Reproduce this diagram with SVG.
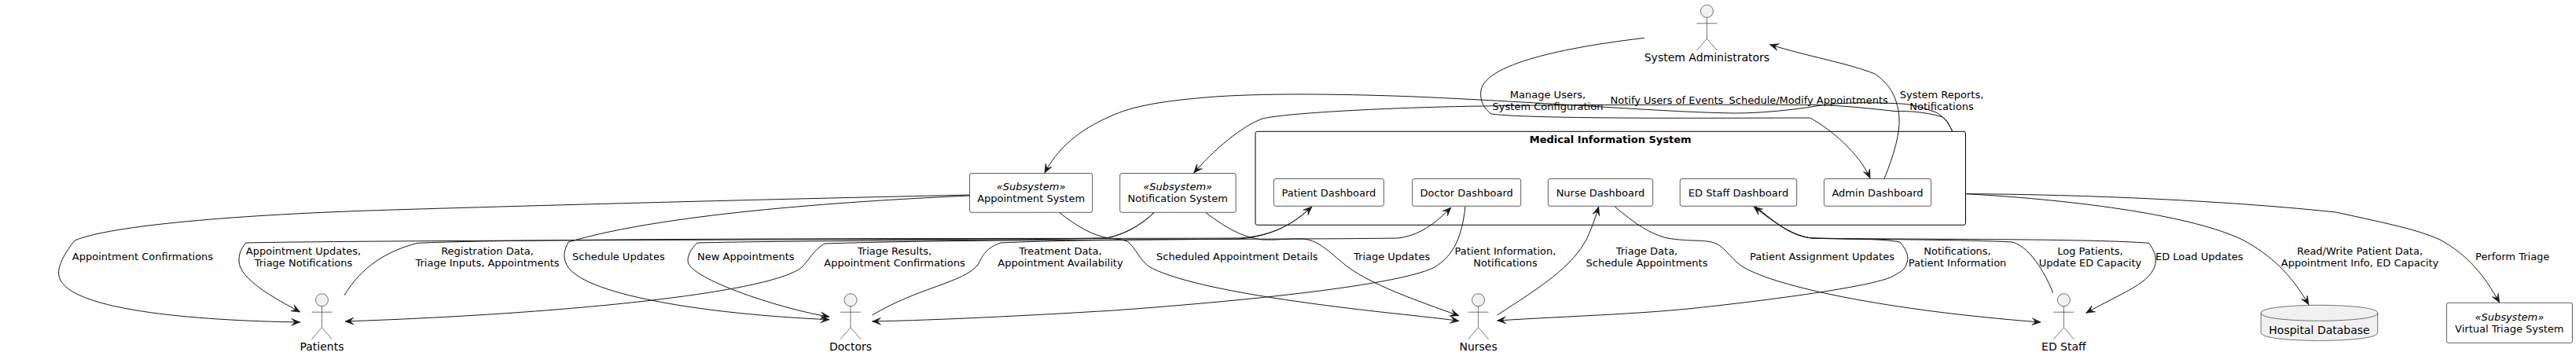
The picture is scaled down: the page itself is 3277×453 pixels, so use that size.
<svg xmlns="http://www.w3.org/2000/svg" width="3277" height="453" viewBox="0 0 3277 453">
<style>
text{font-family:"DejaVu Sans",sans-serif;fill:#000}
.n{font-size:14px;text-anchor:middle}
.r{font-size:13px;text-anchor:middle}
.s{font-style:italic}
.b{font-weight:bold}
.l{font-size:13px}
.m{text-anchor:middle}
.box{fill:#fff;stroke:#181818;stroke-width:.7}
.actor{fill:#F1F1F1;stroke:#181818;stroke-width:.6}
.frame{fill:#fff;stroke:#000;stroke-width:1}
#connectors path{fill:none;stroke:#181818;stroke-width:1;marker-end:url(#a)}
</style>
<defs>
<marker id="a" markerUnits="userSpaceOnUse" markerWidth="14" markerHeight="14" refX="11" refY="7" orient="auto" overflow="visible"><path d="M11,7 L0,2.500 L4.500,7 L0,11.500 Z" fill="#181818" stroke="#181818" stroke-width=".6"/></marker>
<g id="stick"><circle cx="0" cy="0" r="8"/><path d="M0,8V35M-13,15.500H13M0,35L-13,50M0,35L13,50" fill="none"/></g>
</defs>
<rect width="3277" height="453" fill="#fff"/>
<g id="medical-information-system"><rect class="frame" x="1597" y="167.300" width="903.500" height="119" rx="2.500"/><text class="r b" x="2048.700" y="182">Medical Information System</text></g>
<g id="patient-dashboard"><rect class="box" x="1620.400" y="227.500" width="140" height="34.800" rx="2.500"/><text class="r" x="1690.400" y="250">Patient Dashboard</text></g>
<g id="doctor-dashboard"><rect class="box" x="1796.700" y="227.500" width="138" height="34.800" rx="2.500"/><text class="r" x="1865.700" y="250">Doctor Dashboard</text></g>
<g id="nurse-dashboard"><rect class="box" x="1969.400" y="227.500" width="133.200" height="34.800" rx="2.500"/><text class="r" x="2036" y="250">Nurse Dashboard</text></g>
<g id="ed-staff-dashboard"><rect class="box" x="2137.200" y="227.500" width="148.500" height="34.800" rx="2.500"/><text class="r" x="2211.500" y="250">ED Staff Dashboard</text></g>
<g id="admin-dashboard"><rect class="box" x="2320.400" y="227.500" width="136.200" height="34.800" rx="2.500"/><text class="r" x="2388.500" y="250">Admin Dashboard</text></g>
<g id="appointment-system"><rect class="box" x="1233.500" y="220.500" width="156.200" height="49.800" rx="2.500"/><text class="r s" x="1311.600" y="242">«Subsystem»</text><text class="r" x="1311.600" y="257">Appointment System</text></g>
<g id="notification-system"><rect class="box" x="1424.700" y="220.500" width="147.500" height="49.800" rx="2.500"/><text class="r s" x="1498.200" y="242">«Subsystem»</text><text class="r" x="1498.200" y="257">Notification System</text></g>
<g id="virtual-triage-system"><rect class="box" x="3112.400" y="385.300" width="160" height="51" rx="2.500"/><text class="r s" x="3192.300" y="407.500">«Subsystem»</text><text class="r" x="3192.300" y="422.700">Virtual Triage System</text></g>
<g id="hospital-database"><path class="actor" d="M2876.200,398.300C2876.200,388.300 2950.500,388.300 2950.500,388.300C2950.500,388.300 3024.700,388.300 3024.700,398.300V423.300C3024.700,433.500 2950.500,433.500 2950.500,433.500C2950.500,433.500 2876.200,433.500 2876.200,423.300Z"/><path class="actor" style="fill:none" d="M2876.200,398.300C2876.200,408.300 2950.500,408.300 2950.500,408.300C2950.500,408.300 3024.700,408.300 3024.700,398.300"/><text class="n" x="2950.500" y="425">Hospital Database</text></g>
<g id="patients"><use href="#stick" class="actor" x="409.500" y="381.700"/><text class="n" x="409.500" y="445.700">Patients</text></g>
<g id="doctors"><use href="#stick" class="actor" x="1082" y="381.700"/><text class="n" x="1082" y="445.700">Doctors</text></g>
<g id="nurses"><use href="#stick" class="actor" x="1880.600" y="381.700"/><text class="n" x="1880.600" y="445.700">Nurses</text></g>
<g id="ed-staff"><use href="#stick" class="actor" x="2625.400" y="381.700"/><text class="n" x="2625.400" y="445.700">ED Staff</text></g>
<g id="system-administrators"><use href="#stick" class="actor" x="2171.400" y="14.300"/><text class="n" x="2171.400" y="78.300">System Administrators</text></g>
<g id="connectors">
<path d="M1233.500,248C1050,252 800,258 499,267C300,273 140,287 95,306C82,322 74,338 74.600,348C76,395 250,408 381.700,410"/>
<path d="M1468,270.500C1450,288 1430,298 1408,303C1300,305 500,305 313,309C305,318 304,325 304,332C304,355 350,380 381.700,397"/>
<path d="M438,375.700C460,340 490,320 531,309.300C700,302 1400,304 1577,303C1620,300 1645,285 1669,263"/>
<path d="M1669,263C1645,285 1620,300 1577,304C1400,306 1200,305 1049,310C1035,318 1030,330 1020,340C985,370 750,398 439,409"/>
<path d="M1233.500,249C1100,255 850,270 723,308C718,318 716,325 720,335C735,375 900,400 1055,406.700"/>
<path d="M1468,270.500C1450,288 1430,298 1408,303C1300,306 1000,306 887,309C878,318 875,325 875,332C875,355 1000,395 1055,403"/>
<path d="M1109.500,401C1170,365 1225,360 1244,337C1250,325 1255,315 1273,309C1400,303 1650,305 1778,303C1805,300 1825,285 1846,264"/>
<path d="M1864,262.700C1860,300 1850,325 1825,340C1790,358 1650,378 1417,395C1300,402 1200,407 1109.500,409"/>
<path d="M1348,270.700C1370,288 1390,300 1411,303C1420,304 1428,305 1434,307C1445,315 1450,332 1463,340C1510,365 1640,385 1800,401.700C1820,404 1840,406 1856,408.500"/>
<path d="M1534,270.700C1560,290 1580,302 1606,305C1625,306 1640,303 1658,304C1680,306 1695,325 1715,340C1745,362 1800,382 1856,401.700"/>
<path d="M1904.600,401C1960,365 2000,340 2019,303C2027,285 2030,275 2033.700,263"/>
<path d="M2054,262.700C2080,285 2100,298 2121,303C2150,308 2170,304 2183,310C2195,315 2205,333 2218,340C2260,365 2400,395 2596,410"/>
<path d="M2233.700,263C2260,285 2280,300 2305,303C2350,305 2390,303 2417,308C2425,318 2428,325 2426.500,332C2424,345 2415,347 2407,352C2380,365 2250,382 2157,392C2080,400 2000,402 1904.600,408"/>
<path d="M2611.700,372.700C2605,355 2585,315 2560,308C2500,305 2400,305 2305,303C2280,300 2260,285 2231,263"/>
<path d="M2233,263C2260,285 2280,301 2305,303C2400,305 2650,303 2733.700,309.300C2740,318 2743,325 2742,335C2738,360 2700,372 2653.700,398.300"/>
<path d="M2091.800,48.300C2010,58 1890,78 1884,115C1882,128 1888,138 1897,145C1950,152 2200,150 2302.500,150C2330,165 2365,195 2379,226.700"/>
<path d="M2397,227.700C2410,195 2417,170 2416,150C2414,120 2400,104 2385,94C2350,80 2300,72 2251.500,56.700"/>
<path d="M2483.700,167C2478,155 2472,148 2463,143C2440,135 2430,132 2412,131.700C2380,130 2340,130 2310,135C2280,140 2240,144 2208,144C2120,143 2000,132 1800,123C1720,120 1620,118 1546,123C1480,128 1440,135 1412.500,148C1385,160 1350,180 1329,220"/>
<path d="M2483.700,167C2478,155 2475,150 2468,148C2450,143 2430,141 2412,141.700C2380,138 2340,134 2310,133.500C2200,133 2000,133 1887,135C1800,136 1650,142 1607,150.700C1580,160 1545,190 1518.700,220"/>
<path d="M2501.500,246.700C2650,255 2790,275 2852.600,305C2890,325 2915,350 2937,387.700"/>
<path d="M2501.500,246.700C2600,247 2800,252 2971.500,270C3040,285 3075,292 3104,305C3140,325 3160,350 3179.600,385"/>
</g>
<g id="labels" class="l">
<text class="l" x="91.800" y="331">Appointment Confirmations</text>
<text class="l m" x="386" y="324">Appointment Updates,</text><text class="l m" x="386" y="339">Triage Notifications</text>
<text class="l m" x="620" y="324">Registration Data,</text><text class="l m" x="620" y="339">Triage Inputs, Appointments</text>
<text class="l" x="728" y="331">Schedule Updates</text>
<text class="l" x="887" y="331">New Appointments</text>
<text class="l m" x="1138" y="324">Triage Results,</text><text class="l m" x="1138" y="339">Appointment Confirmations</text>
<text class="l m" x="1349" y="324">Treatment Data,</text><text class="l m" x="1349" y="339">Appointment Availability</text>
<text class="l" x="1471" y="331">Scheduled Appointment Details</text>
<text class="l" x="1722" y="331">Triage Updates</text>
<text class="l m" x="1915" y="324">Patient Information,</text><text class="l m" x="1915" y="339">Notifications</text>
<text class="l m" x="2095" y="324">Triage Data,</text><text class="l m" x="2095" y="339">Schedule Appointments</text>
<text class="l" x="2226" y="331">Patient Assignment Updates</text>
<text class="l m" x="2490" y="324">Notifications,</text><text class="l m" x="2490" y="339">Patient Information</text>
<text class="l m" x="2659" y="324">Log Patients,</text><text class="l m" x="2659" y="339">Update ED Capacity</text>
<text class="l" x="2742" y="331">ED Load Updates</text>
<text class="l m" x="3002" y="324">Read/Write Patient Data,</text><text class="l m" x="3002" y="339">Appointment Info, ED Capacity</text>
<text class="l" x="3149" y="331">Perform Triage</text>
<text class="l m" x="1969" y="125">Manage Users,</text><text class="l m" x="1969" y="140">System Configuration</text>
<text class="l" x="2048.500" y="132">Notify Users of Events</text>
<text class="l" x="2199.500" y="132">Schedule/Modify Appointments</text>
<text class="l m" x="2470" y="125">System Reports,</text><text class="l m" x="2470" y="140">Notifications</text>
</g>
</svg>
